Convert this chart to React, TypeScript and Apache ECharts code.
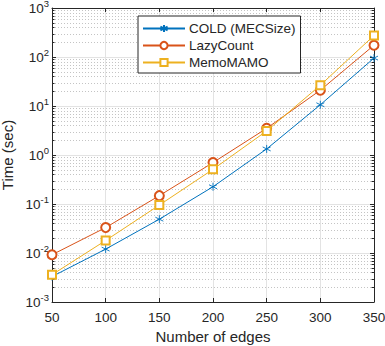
import React, { useEffect, useRef } from "react";
import * as echarts from "echarts";

const xValues = [50, 100, 150, 200, 250, 300, 350];
const coldValues = [0.0033, 0.012, 0.049, 0.225, 1.33, 10.6, 95];
const lazyValues = [0.0092, 0.033, 0.148, 0.7, 3.5, 21, 174];
const memoValues = [0.0036, 0.018, 0.095, 0.51, 3.1, 26.5, 275];
const seriesNames = ["COLD (MECSize)", "LazyCount", "MemoMAMO"];
const xTicks = [50, 100, 150, 200, 250, 300, 350];
const yDecades = [-3, -2, -1, 0, 1, 2, 3];

const AXIS = "#262626";
const FONT = "'Liberation Sans', Arial, Helvetica, sans-serif";
const C1 = "#0072BD";
const C2 = "#D95319";
const C3 = "#EDB120";

const minorValues: number[] = [];
for (let d = yDecades[0]; d < yDecades[yDecades.length - 1]; d++) {
  for (let m = 2; m <= 9; m++) minorValues.push(m * Math.pow(10, d));
}

const asterisk = "path://M5 0L5 10M0.7 2.5L9.3 7.5M9.3 2.5L0.7 7.5";

export default function App() {
  const ref = useRef<HTMLDivElement>(null);
  useEffect(() => {
    if (!ref.current) return;
    const chart = echarts.init(ref.current, undefined, { renderer: "svg" });
    const pair = (vals: number[]) => vals.map((v, i) => [xValues[i], v]);
    const gridL = 52, gridT = 8, gridW = 322, gridH = 294;
    chart.setOption({
      animation: false,
      backgroundColor: "#fff",
      textStyle: { fontFamily: FONT },
      grid: {
        left: gridL,
        top: gridT,
        width: gridW,
        height: gridH,
        containLabel: false,
        outerBoundsMode: "none",
      },
      legend: {
        data: seriesNames,
        orient: "vertical",
        left: 138,
        top: 16,
        width: 152,
        padding: [4, 5, 2, 4],
        itemGap: 0,
        itemWidth: 42,
        itemHeight: 9,
        selectedMode: false,
        backgroundColor: "#fff",
        borderColor: AXIS,
        borderWidth: 1,
        borderRadius: 0,
        textStyle: { fontSize: 13.5, color: AXIS, lineHeight: 17, padding: [0, 0, 0, -1] },
      },
      xAxis: [
        {
          type: "value",
          min: xTicks[0],
          max: xTicks[xTicks.length - 1],
          interval: 50,
          name: "Number of edges",
          nameLocation: "middle",
          nameGap: 25,
          nameTextStyle: { fontSize: 15, color: AXIS },
          axisLine: { show: true, onZero: false, lineStyle: { color: AXIS, width: 1 } },
          axisTick: { show: true, inside: true, length: 4, lineStyle: { color: AXIS } },
          axisLabel: { fontSize: 13.5, color: AXIS, margin: 8 },
          splitLine: { show: true, lineStyle: { color: "#e3e3e3", width: 1 } },
        },
        {
          type: "value",
          position: "top",
          min: xTicks[0],
          max: xTicks[xTicks.length - 1],
          interval: 50,
          axisLine: { show: true, onZero: false, lineStyle: { color: AXIS, width: 1 } },
          axisTick: { show: true, inside: true, length: 4, lineStyle: { color: AXIS } },
          axisLabel: { show: false },
          splitLine: { show: false },
        },
      ],
      yAxis: [
        {
          type: "log",
          logBase: 10,
          min: Math.pow(10, yDecades[0]),
          max: Math.pow(10, yDecades[yDecades.length - 1]),
          interval: 1,
          name: "Time (sec)",
          nameLocation: "middle",
          nameGap: 36,
          nameTextStyle: { fontSize: 15, color: AXIS },
          axisLine: { show: true, onZero: false, lineStyle: { color: AXIS, width: 1 } },
          axisTick: { show: true, inside: true, length: 4, lineStyle: { color: AXIS } },
          axisLabel: {
            margin: 3,
            formatter: (v: number) => `{b|10}{s|${Math.round(Math.log10(v))}}`,
            rich: {
              b: { fontSize: 13.5, color: AXIS, fontFamily: FONT },
              s: { fontSize: 9.5, color: AXIS, fontFamily: FONT, padding: [0, 0, 9, 0] },
            },
          },
          splitLine: { show: true, lineStyle: { color: "#e3e3e3", width: 1 } },
        },
        {
          type: "log",
          logBase: 10,
          position: "right",
          min: Math.pow(10, yDecades[0]),
          max: Math.pow(10, yDecades[yDecades.length - 1]),
          interval: 1,
          axisLine: { show: true, onZero: false, lineStyle: { color: AXIS, width: 1 } },
          axisTick: { show: true, inside: true, length: 4, lineStyle: { color: AXIS } },
          axisLabel: { show: false },
          splitLine: { show: false },
        },
      ],
      series: [
        {
          type: "custom",
          name: "minor",
          silent: true,
          z: 1,
          clip: false,
          encode: { x: 0, y: 1 },
          data: minorValues.map((v) => [xValues[0], v]),
          renderItem: (params: any, api: any) => {
            const p = api.coord([xValues[0], api.value(1)]);
            const cs = params.coordSys;
            const y = Math.round(p[1]) + 0.5;
            return {
              type: "group",
              children: [
                {
                  type: "line",
                  shape: { x1: cs.x, y1: y, x2: cs.x + cs.width, y2: y },
                  style: { stroke: "#c4c4c4", lineWidth: 1, lineDash: [1, 2] },
                },
                {
                  type: "line",
                  shape: { x1: cs.x, y1: y, x2: cs.x + 2.5, y2: y },
                  style: { stroke: AXIS, lineWidth: 1 },
                },
                {
                  type: "line",
                  shape: { x1: cs.x + cs.width - 2.5, y1: y, x2: cs.x + cs.width, y2: y },
                  style: { stroke: AXIS, lineWidth: 1 },
                },
              ],
            };
          },
        },
        {
          type: "line",
          name: seriesNames[0],
          data: pair(coldValues),
          z: 3,
          symbol: asterisk,
          symbolSize: 8,
          color: C1,
          lineStyle: { color: C1, width: 1 },
          itemStyle: { color: C1, borderColor: C1, borderWidth: 0.9 },
        },
        {
          type: "line",
          name: seriesNames[1],
          data: pair(lazyValues),
          z: 4,
          symbol: "emptyCircle",
          symbolSize: 9,
          color: C2,
          lineStyle: { color: C2, width: 1 },
          itemStyle: { color: C2, borderColor: C2, borderWidth: 0.8 },
        },
        {
          type: "line",
          name: seriesNames[2],
          data: pair(memoValues),
          z: 5,
          symbol: "emptyRect",
          symbolSize: 8,
          color: C3,
          lineStyle: { color: C3, width: 1 },
          itemStyle: { color: C3, borderColor: C3, borderWidth: 0.8 },
        },
      ],
    });
    return () => chart.dispose();
  }, []);
  return (
    <div
      ref={ref}
      style={{ position: "fixed", left: 0, top: 0, width: 385, height: 346, background: "#fff" }}
    />
  );
}
